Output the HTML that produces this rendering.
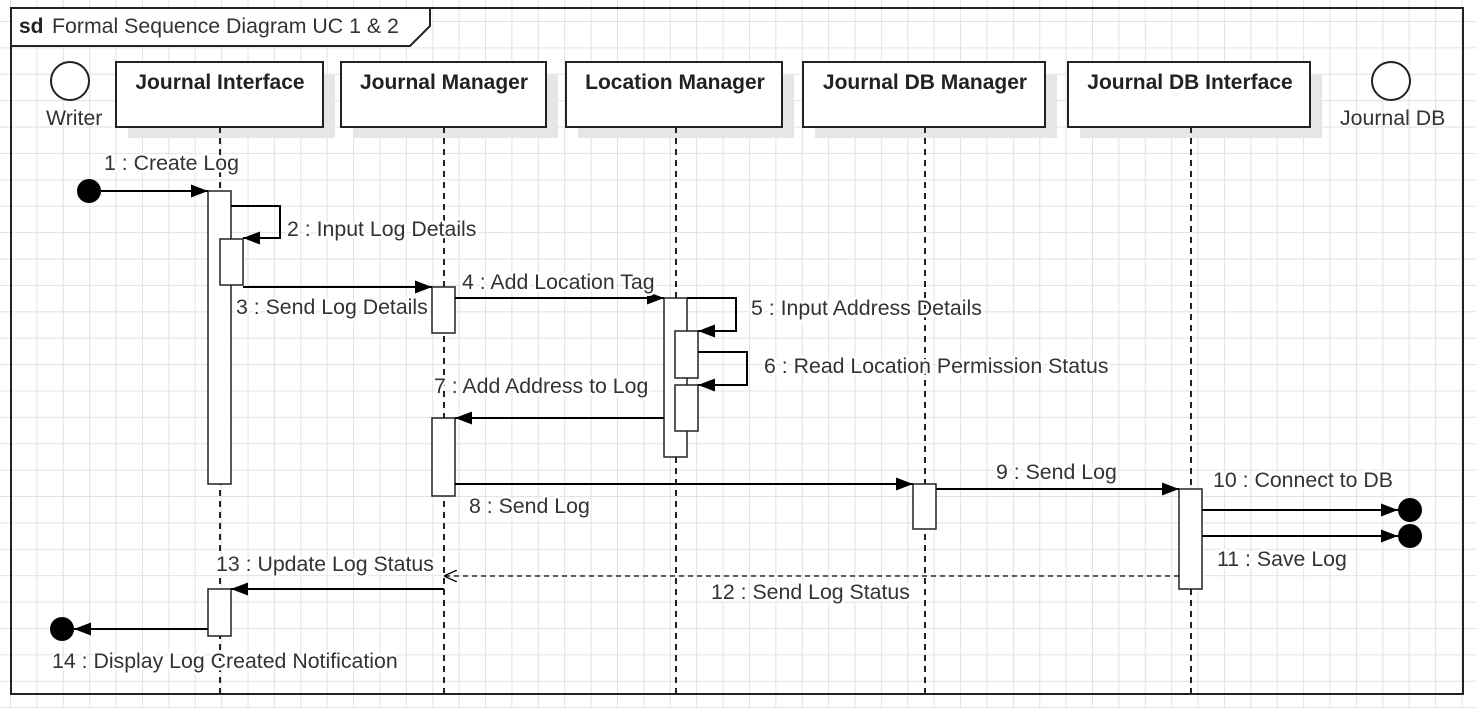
<!DOCTYPE html>
<html><head><meta charset="utf-8"><style>
html,body{margin:0;padding:0;}
body{width:1476px;height:708px;overflow:hidden;background-color:#fff;
background-image:linear-gradient(to right,#e2e2e2 1px,transparent 1px),linear-gradient(to bottom,#e2e2e2 1px,transparent 1px);
background-size:26.4px 26.4px;background-position:10px 21px;}
svg{position:absolute;left:0;top:0;}
text{font-family:"Liberation Sans",sans-serif;font-size:21.3px;fill:#333;}
.l{paint-order:stroke;stroke:#fff;stroke-width:5px;stroke-linejoin:round;}
.b{font-weight:bold;fill:#222;font-size:21px;}
</style></head><body>
<svg width="1476" height="708" viewBox="0 0 1476 708">
<defs>
<marker id="a" markerWidth="17" markerHeight="13" refX="17" refY="6.5" orient="auto" markerUnits="userSpaceOnUse"><path d="M0,0 L17,6.5 L0,13 z" fill="#000"/></marker>
<marker id="o" markerWidth="13" markerHeight="12" refX="13" refY="6" orient="auto" markerUnits="userSpaceOnUse"><path d="M0,0 L13,6 L0,12" fill="none" stroke="#000" stroke-width="1.3"/></marker>
</defs>
<rect x="11" y="8" width="1452" height="686" fill="none" stroke="#222" stroke-width="2"/>
<rect x="12" y="9" width="417" height="36" fill="#fff"/>
<path d="M11,46 L410,46 L430,26 L430,8" fill="none" stroke="#222" stroke-width="2"/>
<text x="19" y="33" class="b">sd</text><text x="52" y="33">Formal Sequence Diagram UC 1 &amp; 2</text>

<circle cx="70" cy="81" r="19" fill="#fff" stroke="#222" stroke-width="2"/>
<text x="46" y="125">Writer</text>
<circle cx="1391" cy="81" r="19" fill="#fff" stroke="#222" stroke-width="2"/>
<text x="1340" y="125">Journal DB</text>

<g fill="#e6e6e6">
<rect x="128" y="74" width="207" height="64"/><rect x="353" y="74" width="205" height="64"/><rect x="578" y="74" width="216" height="64"/><rect x="815" y="74" width="242" height="64"/><rect x="1080" y="74" width="242" height="64"/>
</g>
<g fill="#fff" stroke="#222" stroke-width="2">
<rect x="116" y="62" width="207" height="65"/><rect x="341" y="62" width="205" height="65"/><rect x="566" y="62" width="216" height="65"/><rect x="803" y="62" width="242" height="65"/><rect x="1068" y="62" width="242" height="65"/>
</g>
<text x="220" y="89" class="b" text-anchor="middle">Journal Interface</text>
<text x="444" y="89" class="b" text-anchor="middle">Journal Manager</text>
<text x="675" y="89" class="b" text-anchor="middle">Location Manager</text>
<text x="925" y="89" class="b" text-anchor="middle">Journal DB Manager</text>
<text x="1190" y="89" class="b" text-anchor="middle">Journal DB Interface</text>

<g stroke="#222" stroke-width="2" stroke-dasharray="6,5">
<line x1="220" y1="127" x2="220" y2="694"/><line x1="444" y1="127" x2="444" y2="694"/><line x1="676" y1="127" x2="676" y2="694"/><line x1="925" y1="127" x2="925" y2="694"/><line x1="1191" y1="127" x2="1191" y2="694"/>
</g>

<g fill="#fff" stroke="#222" stroke-width="1.5">
<rect x="208" y="191" width="23" height="293"/>
<rect x="220" y="239" width="23" height="46"/>
<rect x="432" y="287" width="23" height="46"/>
<rect x="432" y="418" width="23" height="78"/>
<rect x="664" y="298" width="23" height="159"/>
<rect x="675" y="331" width="23" height="47"/>
<rect x="675" y="385" width="23" height="46"/>
<rect x="913" y="484" width="23" height="45"/>
<rect x="1179" y="489" width="23" height="100"/>
<rect x="208" y="589" width="23" height="47"/>
</g>

<g stroke="#000" stroke-width="2" fill="none">
<line x1="89" y1="191" x2="208" y2="191" marker-end="url(#a)"/>
<polyline points="231,206 280,206 280,238 243,238" marker-end="url(#a)"/>
<line x1="243" y1="287" x2="432" y2="287" marker-end="url(#a)"/>
<line x1="455" y1="298" x2="664" y2="298" marker-end="url(#a)"/>
<polyline points="687,298 736,298 736,331 698,331" marker-end="url(#a)"/>
<polyline points="698,352 747,352 747,385 698,385" marker-end="url(#a)"/>
<line x1="664" y1="418" x2="455" y2="418" marker-end="url(#a)"/>
<line x1="455" y1="484" x2="913" y2="484" marker-end="url(#a)"/>
<line x1="936" y1="489" x2="1179" y2="489" marker-end="url(#a)"/>
<line x1="1202" y1="510" x2="1398" y2="510" marker-end="url(#a)"/>
<line x1="1202" y1="536" x2="1398" y2="536" marker-end="url(#a)"/>
<line x1="1179" y1="576" x2="444" y2="576" stroke-width="1.3" stroke-dasharray="5,4" marker-end="url(#o)"/>
<line x1="444" y1="589" x2="231" y2="589" marker-end="url(#a)"/>
<line x1="208" y1="629" x2="74" y2="629" marker-end="url(#a)"/>
</g>
<g fill="#000">
<circle cx="89" cy="191" r="12"/><circle cx="1410" cy="510" r="12"/><circle cx="1410" cy="536" r="12"/><circle cx="62" cy="629" r="12"/>
</g>

<g>
<text class="l" x="104" y="170">1 : Create Log</text>
<text class="l" x="287" y="236">2 : Input Log Details</text>
<text class="l" x="236" y="314">3 : Send Log Details</text>
<text class="l" x="462" y="289">4 : Add Location Tag</text>
<text class="l" x="751" y="315">5 : Input Address Details</text>
<text class="l" x="764" y="373">6 : Read Location Permission Status</text>
<text class="l" x="434" y="393">7 : Add Address to Log</text>
<text class="l" x="469" y="513">8 : Send Log</text>
<text class="l" x="996" y="479">9 : Send Log</text>
<text class="l" x="1213" y="487">10 : Connect to DB</text>
<text class="l" x="1217" y="566">11 : Save Log</text>
<text class="l" x="711" y="599">12 : Send Log Status</text>
<text class="l" x="216" y="571">13 : Update Log Status</text>
<text class="l" x="52" y="668">14 : Display Log Created Notification</text>
</g>
</svg>
</body></html>
